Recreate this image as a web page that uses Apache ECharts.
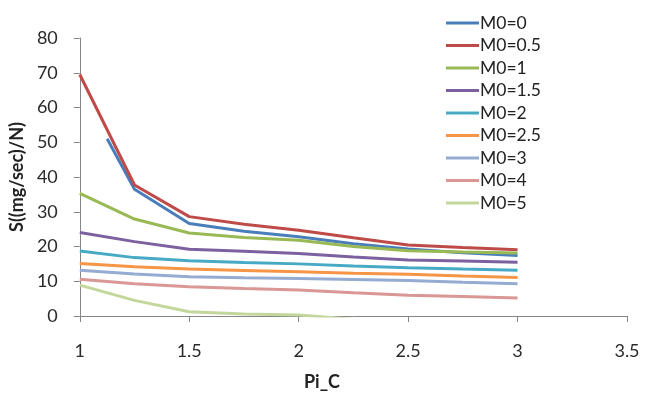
<!DOCTYPE html>
<html>
<head>
<meta charset="utf-8">
<script src="https://cdn.jsdelivr.net/npm/echarts@6/dist/echarts.min.js"></script>
<style>html,body{margin:0;padding:0;background:#fff;}#c{width:646px;height:398px;}</style>
</head>
<body>
<div id="c"></div>
<script>
var piC = [1, 1.25, 1.5, 1.75, 2, 2.25, 2.5, 2.75, 3];
var piC_M0_0 = [1.125, 1.25, 1.5, 1.75, 2, 2.25, 2.5, 2.75, 3];
var seriesNames = ['M0=0', 'M0=0.5', 'M0=1', 'M0=1.5', 'M0=2', 'M0=2.5', 'M0=3', 'M0=4', 'M0=5'];
var M0_0   = [51, 36.5, 26.6, 24.4, 22.8, 20.8, 19.3, 18.2, 17.4];
var M0_05  = [69.5, 37.7, 28.6, 26.4, 24.7, 22.5, 20.4, 19.7, 19.1];
var M0_1   = [35.3, 27.9, 23.9, 22.6, 21.8, 20.0, 18.8, 18.4, 18.1];
var M0_15  = [24.0, 21.4, 19.2, 18.6, 18.0, 17.0, 16.1, 15.8, 15.5];
var M0_2   = [18.7, 16.8, 15.9, 15.4, 15.0, 14.4, 13.9, 13.5, 13.2];
var M0_25  = [15.1, 14.2, 13.5, 13.1, 12.7, 12.3, 12.0, 11.5, 11.1];
var M0_3   = [13.2, 12.1, 11.3, 11.0, 10.8, 10.5, 10.2, 9.7, 9.3];
var M0_4   = [10.6, 9.3, 8.4, 7.9, 7.5, 6.7, 6.0, 5.6, 5.2];
var M0_5   = [8.9, 4.5, 1.2, 0.6, 0.3, -0.9];
var colors = ['#4A7EBB', '#BE4B48', '#98B954', '#7D60A0', '#46AAC5', '#F69546', '#95ABD2', '#D99795', '#C3D69B'];

var values = [M0_0, M0_05, M0_1, M0_15, M0_2, M0_25, M0_3, M0_4, M0_5];
var xsets = [piC_M0_0, piC, piC, piC, piC, piC, piC, piC, piC];

var font = 'Lato, "Open Sans", sans-serif';
var series = seriesNames.map(function (n, i) {
  return {
    name: n,
    type: 'line',
    symbol: 'none',
    clip: true,
    lineStyle: { width: 3, color: colors[i] },
    itemStyle: { color: colors[i] },
    data: values[i].map(function (v, j) { return [xsets[i][j], v]; })
  };
});

var chart = echarts.init(document.getElementById('c'));
chart.setOption({
  animation: false,
  backgroundColor: '#fff',
  grid: { left: 77, right: 19, top: 38, bottom: 82, containLabel: false },
  legend: {
    orient: 'vertical',
    left: 441,
    top: 9,
    icon: 'rect',
    itemWidth: 33,
    itemHeight: 3,
    itemGap: 4.5,
    textStyle: { fontFamily: font, fontSize: 17.5, color: '#222', lineHeight: 18, padding: [0, 0, 0, -4] },
    data: seriesNames
  },
  xAxis: {
    type: 'value',
    min: 1, max: 3.5, interval: 0.5,
    axisLine: { lineStyle: { color: '#868686', width: 1 } },
    axisTick: { show: true, inside: false, length: 6, lineStyle: { color: '#868686' } },
    splitLine: { show: false },
    axisLabel: { fontFamily: font, fontSize: 18, color: '#2a2a2a', margin: 26 }
  },
  yAxis: {
    type: 'value',
    min: 0, max: 80, interval: 10,
    name: 'S((mg/sec)/N)',
    nameLocation: 'middle',
    nameGap: 47,
    nameTextStyle: { fontFamily: font, fontSize: 18, fontWeight: 'bold', color: '#222' },
    axisLine: { show: true, lineStyle: { color: '#868686', width: 1 } },
    axisTick: { show: true, inside: false, length: 6, lineStyle: { color: '#868686' } },
    splitLine: { show: false },
    axisLabel: { fontFamily: font, fontSize: 18, color: '#2a2a2a', margin: 22 }
  },
  graphic: [{
    type: 'text',
    left: 304,
    top: 373,
    style: { text: 'Pi_C', fontFamily: font, fontSize: 18, fontWeight: 'bold', fill: '#222' }
  }],
  series: series
});
</script>
</body>
</html>
